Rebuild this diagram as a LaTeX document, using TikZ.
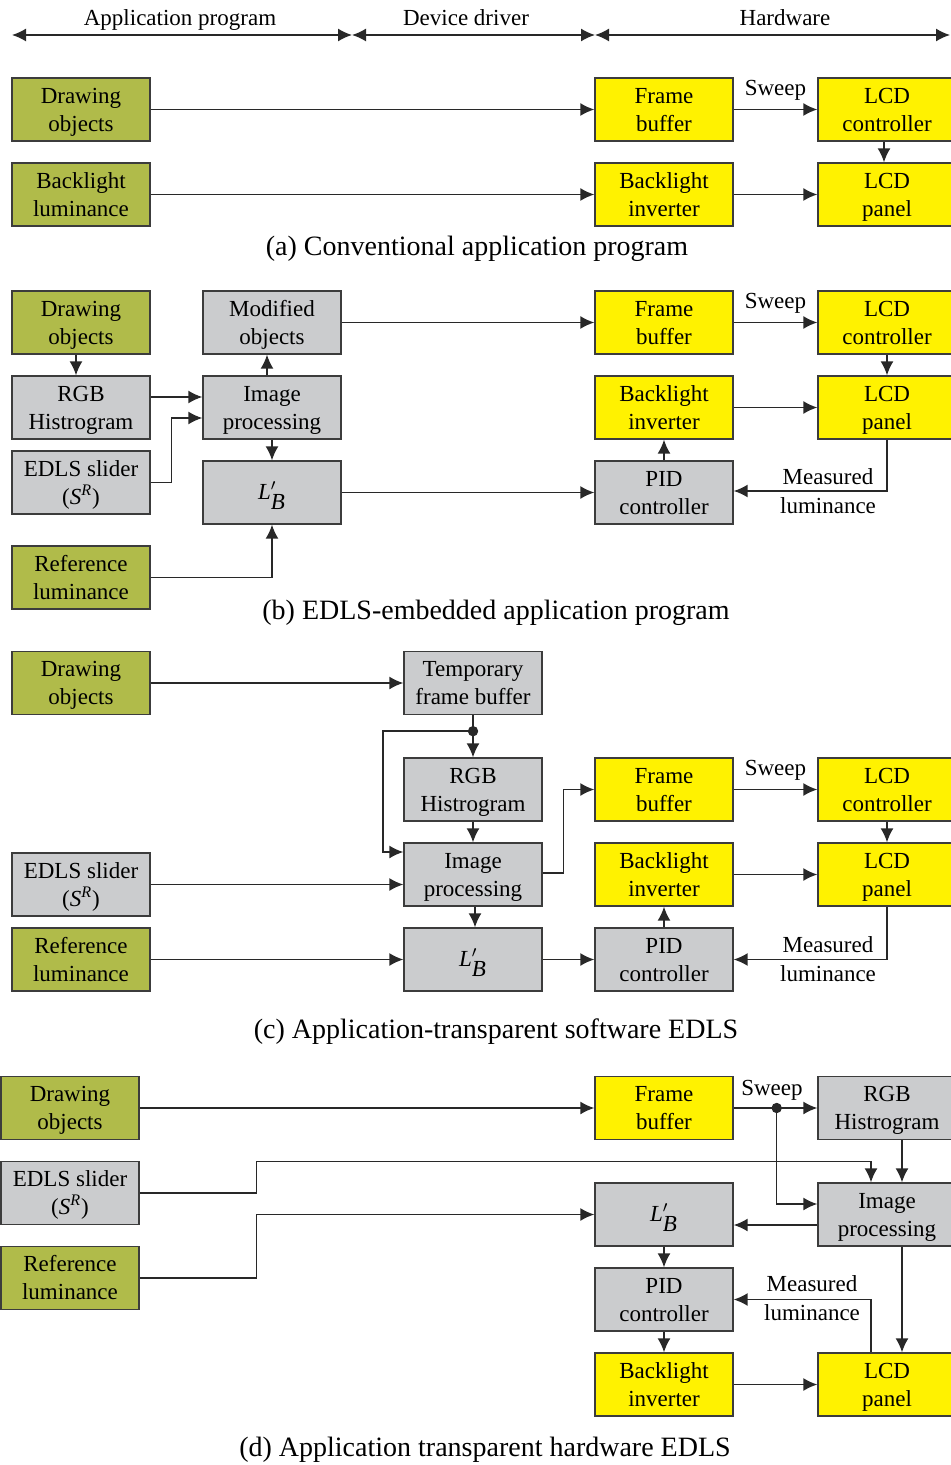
\documentclass[tikz,border=0pt]{standalone}
\usepackage{fontspec}
\setmainfont{Liberation Serif}
\usetikzlibrary{arrows.meta}
\definecolor{grnbox}{RGB}{176,187,74}
\definecolor{ylwbox}{RGB}{255,242,0}
\definecolor{grybox}{RGB}{203,204,206}
\definecolor{edgec}{RGB}{60,60,60}
\definecolor{linec}{RGB}{40,40,40}
\newcommand\bxt[1]{\raisebox{-1pt}[\height][\depth]{\begin{tabular}{@{}c@{}}#1\end{tabular}}}
\begin{document}
\begin{tikzpicture}[x=0.5pt,y=-0.5pt,
  blk/.style={draw=edgec, line width=0.7pt, minimum width=69pt, minimum height=31.5pt, inner sep=0pt, font=\fontsize{11.5}{14}\selectfont},
  gbox/.style={blk, fill=grnbox},
  ybox/.style={blk, fill=ylwbox},
  sbox/.style={blk, fill=grybox},
  ln/.style={draw=linec, line width=0.75pt},
  arr/.style={ln, -{Latex[length=7pt,width=6.5pt]}},
  dbl/.style={ln, {Latex[length=7pt,width=6.5pt]}-{Latex[length=7pt,width=6.5pt]}},
  lbl/.style={inner sep=0pt, align=center, font=\fontsize{11.5}{14.5}\selectfont},
  hdr/.style={lbl, text height=8pt, text depth=2.4pt},
  captxt/.style={inner sep=0pt, font=\fontsize{14}{16}\selectfont},
  dotc/.style={fill=linec}
]
\useasboundingbox (0,0) rectangle (950,1465);
\fill[white] (0,0) rectangle (950,1465);

% header
\coordinate (h0) at (12,35);
\coordinate (h1) at (352,35);
\coordinate (h2) at (595,35);
\coordinate (h3) at (950,35);
\draw[dbl] (h0) -- (h1);
\draw[dbl] (h1) -- (h2);
\draw[dbl] (h2) -- (h3);
\node[hdr] (t1) at (180,19.5) {Application program};
\node[hdr] (t2) at (466,19.5) {Device driver};
\node[hdr] (t3) at (785,19.5) {Hardware};

% ---------------- (a)
\node[gbox] (a-do) at (81,109.5) {\bxt{Drawing\\objects}};
\node[ybox] (a-fb) at (664,109.5) {\bxt{Frame\\buffer}};
\node[ybox] (a-lc) at (887,109.5) {\bxt{LCD\\controller}};
\node[gbox] (a-bl) at (81,194.5) {\bxt{Backlight\\luminance}};
\node[ybox] (a-bi) at (664,194.5) {\bxt{Backlight\\inverter}};
\node[ybox] (a-lp) at (887,194.5) {\bxt{LCD\\panel}};
\draw[arr] (a-do) -- (a-fb);
\draw[arr] (a-fb) -- node[hdr, above=4pt] (a-sw) {Sweep} (a-lc);
\draw[arr] ([xshift=-1.5pt]a-lc.south) -- ([xshift=-1.5pt]a-lp.north);
\draw[arr] (a-bl) -- (a-bi);
\draw[arr] (a-bi) -- (a-lp);
\node[captxt] (a-cap) at (477,248.5) {(a) Conventional application program};

% ---------------- (b)
\node[gbox] (b-do) at (81,322.5) {\bxt{Drawing\\objects}};
\node[sbox] (b-mo) at (272,322.5) {\bxt{Modified\\objects}};
\node[ybox] (b-fb) at (664,322.5) {\bxt{Frame\\buffer}};
\node[ybox] (b-lc) at (887,322.5) {\bxt{LCD\\controller}};
\node[sbox] (b-rgb) at (81,407.5) {\bxt{RGB\\Histrogram}};
\node[sbox] (b-ip) at (272,407.5) {\bxt{Image\\processing}};
\node[ybox] (b-bi) at (664,407.5) {\bxt{Backlight\\inverter}};
\node[ybox] (b-lp) at (887,407.5) {\bxt{LCD\\panel}};
\node[sbox] (b-edls) at (81,482.5) {\bxt{EDLS slider\\(\textit{S}\textsuperscript{\textit{R}})}};
\node[sbox] (b-lb) at (272,492.5) {\bxt{$\textit{L}'_{\textit{B}}$}};
\node[sbox] (b-pid) at (664,492.5) {\bxt{PID\\controller}};
\node[gbox] (b-rl) at (81,577.5) {\bxt{Reference\\luminance}};
\draw[arr] ([xshift=-2.5pt]b-do.south) -- ([xshift=-2.5pt]b-rgb.north);
\draw[arr] ([yshift=5.25pt]b-rgb.east) -- ([yshift=5.25pt]b-ip.west);
\draw[arr] (b-edls.east) -- ++(21,0) |- ([yshift=-5.25pt]b-ip.west);
\draw[arr] ([xshift=-2.5pt]b-ip.north) -- ([xshift=-2.5pt]b-mo.south);
\draw[arr] (b-ip.south) -- (b-lb.north);
\draw[arr] (b-rl.east) -| (b-lb.south);
\draw[arr] (b-mo) -- (b-fb);
\draw[arr] (b-fb) -- node[hdr, above=4pt] (b-sw) {Sweep} (b-lc);
\draw[arr] (b-lc) -- (b-lp);
\draw[arr] (b-bi) -- (b-lp);
\draw[arr] (b-pid) -- (b-bi);
\draw[arr] (b-lb) -- (b-pid);
\draw[arr] (b-lp.south) |- ([yshift=0.75pt]b-pid.east);
\node[lbl] (b-ml) at (828,491.5) {Measured\\luminance};
\node[captxt] (b-cap) at (496,612.5) {(b) EDLS-embedded application program};

% ---------------- (c)
\node[gbox] (c-do) at (81,683) {\bxt{Drawing\\objects}};
\node[sbox] (c-tfb) at (473,683) {\bxt{Temporary\\frame buffer}};
\node[sbox] (c-rgb) at (473,789.5) {\bxt{RGB\\Histrogram}};
\node[ybox] (c-fb) at (664,789.5) {\bxt{Frame\\buffer}};
\node[ybox] (c-lc) at (887,789.5) {\bxt{LCD\\controller}};
\node[sbox] (c-edls) at (81,884.5) {\bxt{EDLS slider\\(\textit{S}\textsuperscript{\textit{R}})}};
\node[sbox] (c-ip) at (473,874.5) {\bxt{Image\\processing}};
\node[ybox] (c-bi) at (664,874.5) {\bxt{Backlight\\inverter}};
\node[ybox] (c-lp) at (887,874.5) {\bxt{LCD\\panel}};
\node[gbox] (c-rl) at (81,959.5) {\bxt{Reference\\luminance}};
\node[sbox] (c-lb) at (473,959.5) {\bxt{$\textit{L}'_{\textit{B}}$}};
\node[sbox] (c-pid) at (664,959.5) {\bxt{PID\\controller}};
\coordinate (c-dot) at ([yshift=-8pt]c-tfb.south);
\draw[arr] (c-do) -- (c-tfb);
\draw[ln] (c-tfb.south) -- (c-dot);
\draw[arr] (c-dot) -- (c-rgb.north);
\draw[arr] (c-dot) -- ++(-90,0) |- ([yshift=11.25pt]c-ip.west);
\fill[dotc] (c-dot) circle (2.6pt);
\draw[arr] (c-rgb) -- (c-ip);
\draw[arr] (c-edls.east) -- (c-edls.east -| c-ip.west);
\draw[arr] ([xshift=1pt]c-ip.south) -- ([xshift=1pt]c-lb.north);
\draw[arr] ([yshift=0.75pt]c-ip.east) -- ++(21,0) |- (c-fb.west);
\draw[arr] (c-rl) -- (c-lb);
\draw[arr] (c-lb) -- (c-pid);
\draw[arr] (c-pid) -- (c-bi);
\draw[arr] (c-bi) -- (c-lp);
\draw[arr] (c-fb) -- node[hdr, above=4pt] (c-sw) {Sweep} (c-lc);
\draw[arr] (c-lc) -- (c-lp);
\draw[arr] (c-lp.south) |- (c-pid.east);
\node[lbl] (c-ml) at (828,959.5) {Measured\\luminance};
\node[captxt] (c-cap) at (496,1031.5) {(c) Application-transparent software EDLS};

% ---------------- (d)
\node[gbox] (d-do) at (70,1108) {\bxt{Drawing\\objects}};
\node[ybox] (d-fb) at (664,1108) {\bxt{Frame\\buffer}};
\node[sbox] (d-rgb) at (887,1108) {\bxt{RGB\\Histrogram}};
\node[sbox] (d-edls) at (70,1193) {\bxt{EDLS slider\\(\textit{S}\textsuperscript{\textit{R}})}};
\node[sbox] (d-lb) at (664,1214.5) {\bxt{$\textit{L}'_{\textit{B}}$}};
\node[sbox] (d-ip) at (887,1214.5) {\bxt{Image\\processing}};
\node[gbox] (d-rl) at (70,1278) {\bxt{Reference\\luminance}};
\node[sbox] (d-pid) at (664,1299.5) {\bxt{PID\\controller}};
\node[ybox] (d-bi) at (664,1384.5) {\bxt{Backlight\\inverter}};
\node[ybox] (d-lp) at (887,1384.5) {\bxt{LCD\\panel}};
\coordinate (d-dot) at ([xshift=21.5pt]d-fb.east);
\draw[arr] (d-do) -- (d-fb);
\draw[arr] (d-fb) -- (d-rgb);
\node[hdr] (d-sw) at (772,1090) {Sweep};
\draw[arr] (d-dot) |- ([yshift=5.25pt]d-ip.west);
\fill[dotc] (d-dot) circle (2.6pt);
\draw[arr] (d-edls.east) -- ++(117,0) |- ([xshift=-8pt,yshift=10.5pt]d-ip.north) -- ([xshift=-8pt]d-ip.north);
\draw[arr] ([xshift=7.5pt]d-rgb.south) -- ([xshift=7.5pt]d-ip.north);
\draw[arr] ([yshift=-5.25pt]d-ip.west) -- ([yshift=-5.25pt]d-lb.east);
\draw[arr] (d-rl.east) -- ++(117,0) |- (d-lb.west);
\draw[arr] (d-lb) -- (d-pid);
\draw[arr] (d-pid) -- (d-bi);
\draw[arr] (d-bi) -- (d-lp);
\draw[arr] ([xshift=7.5pt]d-ip.south) -- ([xshift=7.5pt]d-lp.north);
\draw[arr] ([xshift=-8pt]d-lp.north) |- (d-pid.east);
\node[lbl] (d-ml) at (812,1298.5) {Measured\\luminance};
\node[captxt] (d-cap) at (485,1449.5) {(d) Application transparent hardware EDLS};
\end{tikzpicture}
\end{document}
